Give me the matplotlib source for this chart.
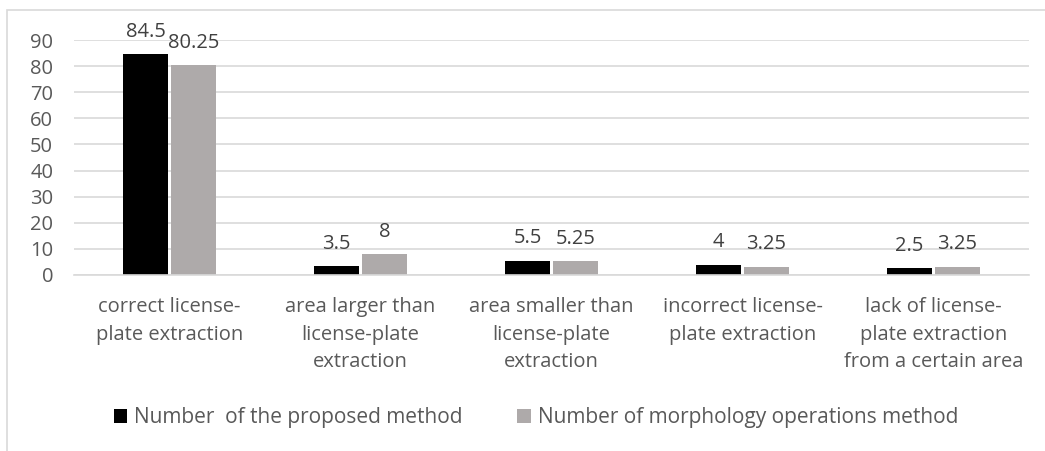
import matplotlib.pyplot as plt
import numpy as np
from matplotlib.patches import Rectangle

categories = [
    "correct license-\nplate extraction",
    "area larger than\nlicense-plate\nextraction",
    "area smaller than\nlicense-plate\nextraction",
    "incorrect license-\nplate extraction",
    "lack of license-\nplate extraction\nfrom a certain area",
]
proposed = [84.5, 3.5, 5.5, 4, 2.5]
morphology = [80.25, 8, 5.25, 3.25, 3.25]
series_names = ["Number  of the proposed method", "Number of morphology operations method"]
y_ticks = [0, 10, 20, 30, 40, 50, 60, 70, 80, 90]

text_color = "#595959"
plt.rcParams['font.family'] = ['Open Sans', 'DejaVu Sans']

W, H = 1045, 451
fig = plt.figure(figsize=(W / 100, H / 100), dpi=100)
ax = fig.add_axes([74 / W, 1 - 275 / H, (1029 - 74) / W, (275 - 40) / H])

# chart frame, right and bottom edges run off the picture
fig.patches.append(Rectangle((7 / W, -0.1), 1.2, 1 - 10 / H + 0.1, transform=fig.transFigure,
                             fill=False, edgecolor="#d9d9d9", linewidth=1.2))

x = np.arange(len(categories))
bw = 45 / 191
gap = 3 / 191
b1 = ax.bar(x - bw / 2 - gap / 2, proposed, bw, color="black", label=series_names[0])
b2 = ax.bar(x + bw / 2 + gap / 2, morphology, bw, color="#aeaaaa", label=series_names[1])

for bars, vals in [(b1, proposed), (b2, morphology)]:
    for rect, v in zip(bars, vals):
        ax.annotate(f"{v:g}", (rect.get_x() + rect.get_width() / 2, rect.get_height()),
                    xytext=(0, 16), textcoords="offset points", ha="center", va="center",
                    fontsize=14.5, color="#404040")

ax.set_xlim(-0.5, len(categories) - 0.5)
ax.set_ylim(0, 90)
ax.set_yticks(y_ticks)
ax.set_xticks(x)
ax.set_xticklabels(categories, fontsize=14.5, color=text_color, linespacing=1.5)
ax.tick_params(axis="y", labelsize=14.5, labelcolor=text_color, length=0, pad=15)
ax.tick_params(axis="x", length=0, pad=16)
ax.yaxis.grid(True, color="#d9d9d9", linewidth=1.2)
ax.set_axisbelow(True)
for s in ["top", "right", "left"]:
    ax.spines[s].set_visible(False)
ax.spines["bottom"].set_color("#d9d9d9")
ax.spines["bottom"].set_linewidth(1.2)

fig.legend(loc="center", bbox_to_anchor=(536 / W, 1 - 418 / H), ncol=2, frameon=False,
           fontsize=15, labelcolor=text_color, handlelength=0.65, handleheight=0.65,
           handletextpad=0.35, columnspacing=2.6)

fig.savefig("out.png", dpi=100)
